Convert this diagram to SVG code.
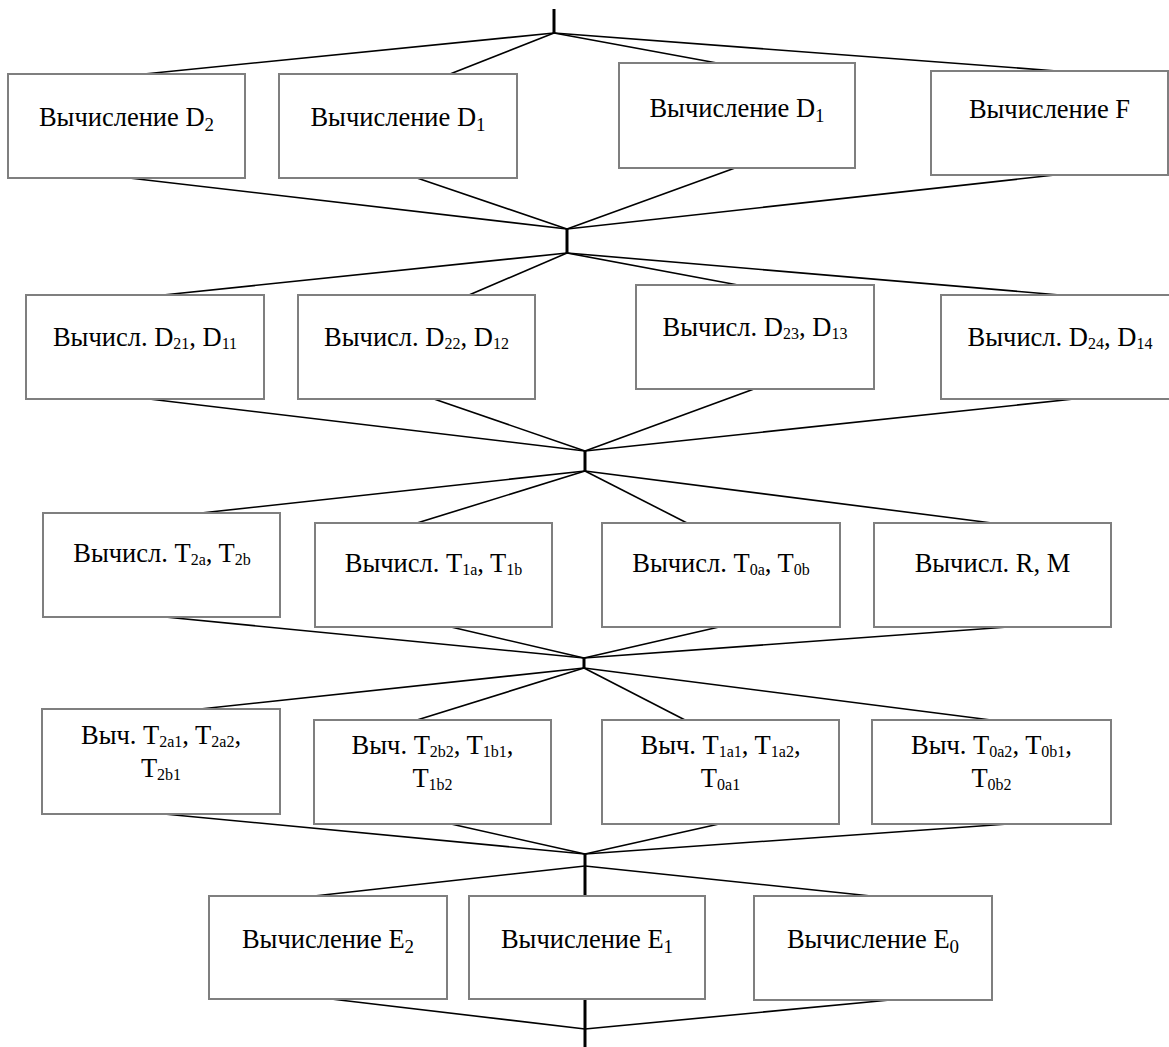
<svg xmlns="http://www.w3.org/2000/svg" width="1169" height="1047" viewBox="0 0 1169 1047">
<style>
.box{fill:#fff;stroke:#7f7f7f;stroke-width:2}
.t{font-family:"Liberation Serif","Times New Roman",serif;font-size:26.5px;fill:#000;text-anchor:middle}
.sb{font-size:19px}
.ss{font-size:16px}
.c line{stroke:#000;stroke-width:1.6;fill:none}
.c line.v{stroke-width:3}
</style>
<rect width="1169" height="1047" fill="#fff"/>
<g id="connectors" class="c">
<line class="v" x1="554" y1="9" x2="554" y2="33"/>
<line x1="554" y1="33" x2="144" y2="74"/>
<line x1="554" y1="33" x2="450" y2="74"/>
<line x1="554" y1="33" x2="717" y2="63"/>
<line x1="554" y1="33" x2="1057" y2="71"/>
<line x1="129" y1="178" x2="567" y2="229"/>
<line x1="417" y1="178" x2="567" y2="229"/>
<line x1="735" y1="168" x2="567" y2="229"/>
<line x1="1055" y1="175" x2="567" y2="229"/>
<line class="v" x1="567" y1="229" x2="567" y2="253"/>
<line x1="567" y1="253" x2="163" y2="295"/>
<line x1="567" y1="253" x2="469" y2="295"/>
<line x1="567" y1="253" x2="738" y2="285"/>
<line x1="567" y1="253" x2="1060" y2="295"/>
<line x1="149" y1="399" x2="585" y2="451"/>
<line x1="434" y1="399" x2="585" y2="451"/>
<line x1="754" y1="389" x2="585" y2="451"/>
<line x1="1074" y1="399" x2="585" y2="451"/>
<line class="v" x1="585" y1="451" x2="585" y2="471"/>
<line x1="585" y1="471" x2="201" y2="513"/>
<line x1="585" y1="471" x2="417" y2="523"/>
<line x1="585" y1="471" x2="687" y2="523"/>
<line x1="585" y1="471" x2="992" y2="523"/>
<line x1="165" y1="617" x2="584" y2="658"/>
<line x1="451" y1="627" x2="584" y2="658"/>
<line x1="719" y1="627" x2="584" y2="658"/>
<line x1="1008" y1="627" x2="584" y2="658"/>
<line class="v" x1="584" y1="658" x2="584" y2="668"/>
<line x1="584" y1="668" x2="200" y2="709"/>
<line x1="584" y1="668" x2="417" y2="720"/>
<line x1="584" y1="668" x2="685" y2="720"/>
<line x1="584" y1="668" x2="991" y2="720"/>
<line x1="164" y1="814" x2="585" y2="854"/>
<line x1="451" y1="824" x2="585" y2="854"/>
<line x1="719" y1="824" x2="585" y2="854"/>
<line x1="1008" y1="824" x2="585" y2="854"/>
<line class="v" x1="585" y1="854" x2="585" y2="896"/>
<line x1="585" y1="866" x2="314" y2="896"/>
<line x1="585" y1="866" x2="871" y2="896"/>
<line x1="331" y1="999" x2="585" y2="1029"/>
<line x1="890" y1="1000" x2="585" y2="1029"/>
<line class="v" x1="585" y1="999" x2="585" y2="1047"/>
</g>
<g id="n_d2"><rect class="box" x="8" y="74" width="237" height="104"/><text class="t" x="126.5" y="126">Вычисление D<tspan class="sb" dy="5">2</tspan></text></g>
<g id="n_d1a"><rect class="box" x="279" y="74" width="238" height="104"/><text class="t" x="398" y="126">Вычисление D<tspan class="sb" dy="5">1</tspan></text></g>
<g id="n_d1b"><rect class="box" x="619" y="63" width="236" height="105"/><text class="t" x="737" y="117">Вычисление D<tspan class="sb" dy="5">1</tspan></text></g>
<g id="n_f"><rect class="box" x="931" y="71" width="237" height="104"/><text class="t" x="1049.5" y="118">Вычисление F</text></g>

<g id="n_d21"><rect class="box" x="26" y="295" width="238" height="104"/><text class="t" x="145" y="346">Вычисл. D<tspan class="ss" dy="2.5">21</tspan><tspan dy="-2.5">, D</tspan><tspan class="ss" dy="2.5">11</tspan></text></g>
<g id="n_d22"><rect class="box" x="298" y="295" width="237" height="104"/><text class="t" x="416.5" y="346">Вычисл. D<tspan class="ss" dy="2.5">22</tspan><tspan dy="-2.5">, D</tspan><tspan class="ss" dy="2.5">12</tspan></text></g>
<g id="n_d23"><rect class="box" x="636" y="285" width="238" height="104"/><text class="t" x="755" y="336">Вычисл. D<tspan class="ss" dy="2.5">23</tspan><tspan dy="-2.5">, D</tspan><tspan class="ss" dy="2.5">13</tspan></text></g>
<g id="n_d24"><rect class="box" x="941" y="295" width="240" height="104"/><text class="t" x="1060" y="346">Вычисл. D<tspan class="ss" dy="2.5">24</tspan><tspan dy="-2.5">, D</tspan><tspan class="ss" dy="2.5">14</tspan></text></g>

<g id="n_t2"><rect class="box" x="43" y="513" width="237" height="104"/><text class="t" x="162" y="562">Вычисл. T<tspan class="ss" dy="2.5">2a</tspan><tspan dy="-2.5">, T</tspan><tspan class="ss" dy="2.5">2b</tspan></text></g>
<g id="n_t1"><rect class="box" x="315" y="523" width="237" height="104"/><text class="t" x="433.5" y="572">Вычисл. T<tspan class="ss" dy="2.5">1a</tspan><tspan dy="-2.5">, T</tspan><tspan class="ss" dy="2.5">1b</tspan></text></g>
<g id="n_t0"><rect class="box" x="602" y="523" width="238" height="104"/><text class="t" x="721" y="572">Вычисл. T<tspan class="ss" dy="2.5">0a</tspan><tspan dy="-2.5">, T</tspan><tspan class="ss" dy="2.5">0b</tspan></text></g>
<g id="n_rm"><rect class="box" x="874" y="523" width="237" height="104"/><text class="t" x="992.5" y="572">Вычисл. R, M</text></g>

<g id="n_t2a1"><rect class="box" x="42" y="709" width="238" height="105"/>
<text class="t" x="161" y="744">Выч. T<tspan class="ss" dy="2.5">2a1</tspan><tspan dy="-2.5">, T</tspan><tspan class="ss" dy="2.5">2a2</tspan><tspan dy="-2.5">,</tspan></text>
<text class="t" x="161" y="777">T<tspan class="ss" dy="2.5">2b1</tspan></text></g>
<g id="n_t2b2"><rect class="box" x="314" y="720" width="237" height="104"/>
<text class="t" x="432.5" y="754">Выч. T<tspan class="ss" dy="2.5">2b2</tspan><tspan dy="-2.5">, T</tspan><tspan class="ss" dy="2.5">1b1</tspan><tspan dy="-2.5">,</tspan></text>
<text class="t" x="432.5" y="787">T<tspan class="ss" dy="2.5">1b2</tspan></text></g>
<g id="n_t1a1"><rect class="box" x="602" y="720" width="237" height="104"/>
<text class="t" x="720.5" y="754">Выч. T<tspan class="ss" dy="2.5">1a1</tspan><tspan dy="-2.5">, T</tspan><tspan class="ss" dy="2.5">1a2</tspan><tspan dy="-2.5">,</tspan></text>
<text class="t" x="720.5" y="787">T<tspan class="ss" dy="2.5">0a1</tspan></text></g>
<g id="n_t0a2"><rect class="box" x="872" y="720" width="239" height="104"/>
<text class="t" x="991.5" y="754">Выч. T<tspan class="ss" dy="2.5">0a2</tspan><tspan dy="-2.5">, T</tspan><tspan class="ss" dy="2.5">0b1</tspan><tspan dy="-2.5">,</tspan></text>
<text class="t" x="991.5" y="787">T<tspan class="ss" dy="2.5">0b2</tspan></text></g>

<g id="n_e2"><rect class="box" x="209" y="896" width="238" height="103"/><text class="t" x="328" y="948">Вычисление E<tspan class="sb" dy="5">2</tspan></text></g>
<g id="n_e1"><rect class="box" x="469" y="896" width="236" height="103"/><text class="t" x="587" y="948">Вычисление E<tspan class="sb" dy="5">1</tspan></text></g>
<g id="n_e0"><rect class="box" x="754" y="896" width="238" height="104"/><text class="t" x="873" y="948">Вычисление E<tspan class="sb" dy="5">0</tspan></text></g>
</svg>
